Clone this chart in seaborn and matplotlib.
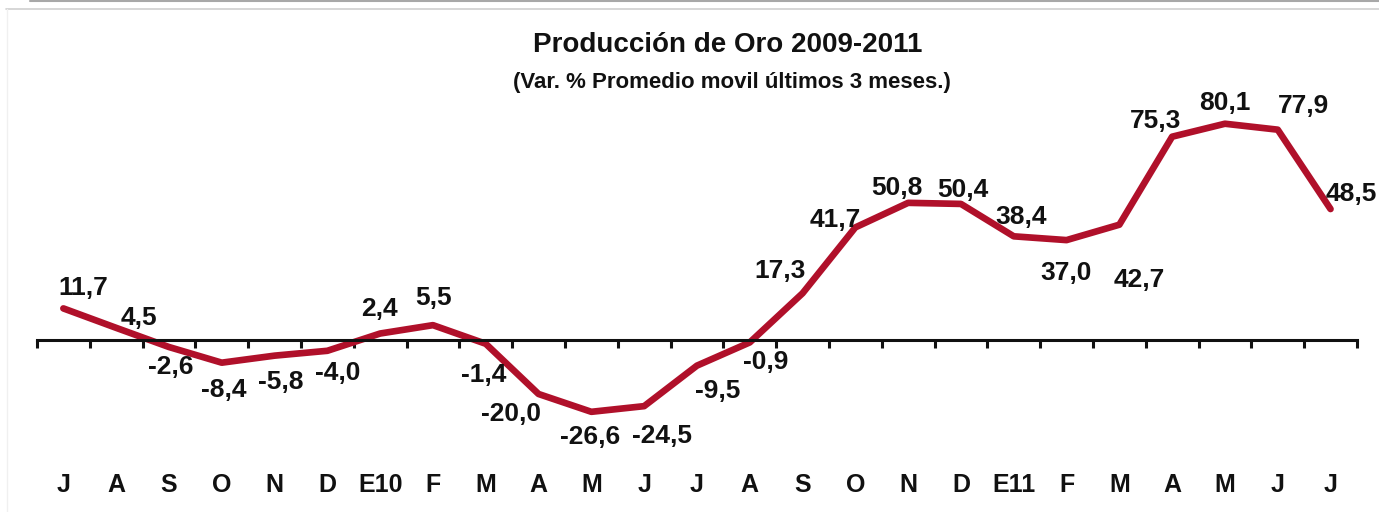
"""
Producción de Oro 2009-2011 - variación % del promedio móvil de 3 meses.
"""

import matplotlib
matplotlib.use("Agg")

import matplotlib.pyplot as plt
import numpy as np
import pandas as pd
import seaborn as sns
from matplotlib.lines import Line2D

months = ["J", "A", "S", "O", "N", "D", "E10", "F", "M", "A", "M", "J",
          "J", "A", "S", "O", "N", "D", "E11", "F", "M", "A", "M", "J", "J"]
variation = [11.7, 4.5, -2.6, -8.4, -5.8, -4.0, 2.4, 5.5, -1.4, -20.0, -26.6, -24.5,
             -9.5, -0.9, 17.3, 41.7, 50.8, 50.4, 38.4, 37.0, 42.7, 75.3, 80.1, 77.9, 48.5]

# label offsets (pixels) relative to each point
label_dx = [20, 23, 2, 2, 6, 10, -1, 1, -2, -28, -1, 18,
            21, 16, -22, -20, -11, 2, 7, -1, 20, -17, 0, 26, 21]
label_dy = [20, 10, -20, -27, -26, -22, 25, 27, -31, -20, -25, -30,
            -25, -20, 22, 7, 15, 14, 19, -33, -55, 16, 21, 24, 15]

sns.set_theme(style="white")
plt.rcParams["font.family"] = ["Liberation Sans", "DejaVu Sans"]

df = pd.DataFrame({"pos": np.arange(len(months)), "var": variation})

fig = plt.figure(figsize=(13.79, 5.12), dpi=100)
ax = fig.add_axes([0.0268, 0.1672, 0.9572, 0.6117])

sns.lineplot(data=df, x="pos", y="var", color="#B0102A", linewidth=4.8,
             solid_joinstyle="round", solid_capstyle="round", ax=ax)

ax.set_xlim(-0.5, len(months) - 0.5)
ax.set_ylim(-32, 84)

for side in ["top", "right", "left"]:
    ax.spines[side].set_visible(False)
ax.spines["bottom"].set_position(("data", 0))
ax.spines["bottom"].set_linewidth(2.2)
ax.spines["bottom"].set_color("#111111")

ax.set_yticks([])
ax.set_xticks(df["pos"])
ax.set_xticklabels(months, fontsize=18, fontweight="bold", color="#111111")
ax.set_xticks(np.arange(-0.5, len(months), 1.0), minor=True)
ax.tick_params(axis="x", which="major", length=0, pad=96)
ax.tick_params(axis="x", which="minor", length=6, width=2.2, direction="out",
               color="#111111", bottom=True)
ax.set_xlabel("")
ax.set_ylabel("")

for i, v in enumerate(variation):
    ax.annotate(f"{v:.1f}".replace(".", ","), xy=(i, v),
                xytext=(label_dx[i], label_dy[i]), textcoords="offset pixels",
                ha="center", va="center", fontsize=19, fontweight="bold",
                color="#111111", annotation_clip=False)

fig.text(0.528, 0.912, "Producción de Oro 2009-2011", ha="center", va="center",
         fontsize=20, fontweight="bold", color="#111111")
fig.text(0.531, 0.838, "(Var. % Promedio movil últimos 3 meses.)", ha="center",
         va="center", fontsize=16, fontweight="bold", color="#111111")

# slide borders
fig.add_artist(Line2D([0.022, 1.0], [0.998, 0.998], color="#A8A8A8", linewidth=1.5))
fig.add_artist(Line2D([0.004, 1.0], [0.982, 0.982], color="#CFCFCF", linewidth=1.2))
fig.add_artist(Line2D([0.005, 0.005], [0.0, 0.982], color="#F0F0F0", linewidth=1.0))

fig.savefig("out.png", dpi=100)
plt.close(fig)
